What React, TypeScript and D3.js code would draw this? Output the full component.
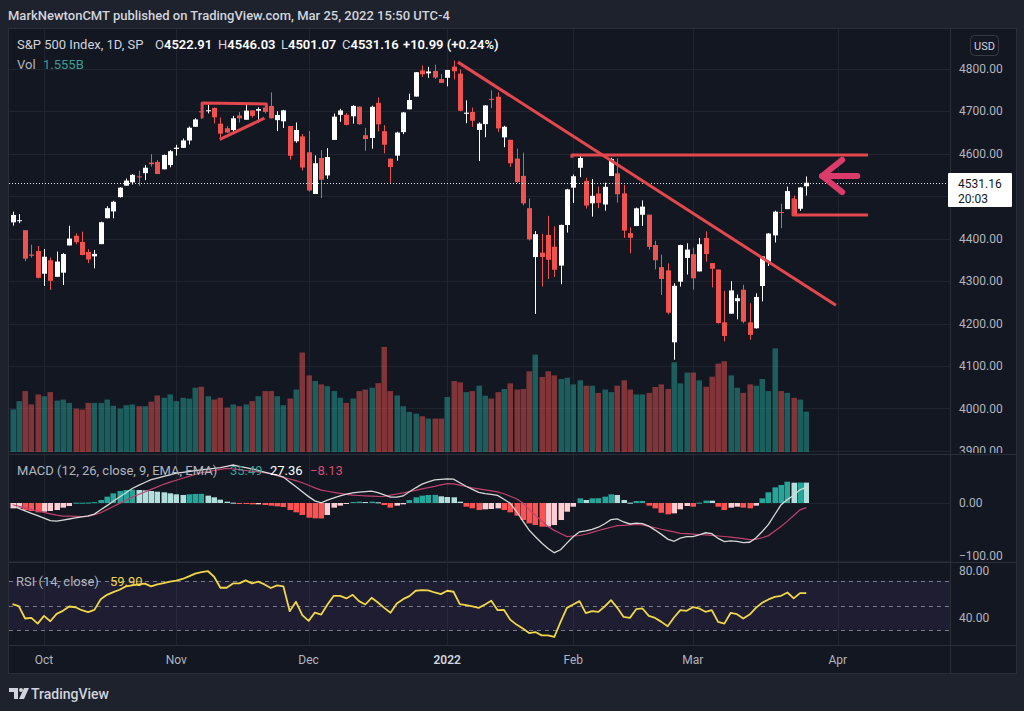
import React from 'react';
import * as d3 from 'd3';

// ---------- DATA (S&P 500 daily, Sep 24 2021 – Mar 25 2022) ----------
const OPEN = [4438.04,4442.12,4419.54,4362.41,4370.67,4317.16,4348.84,4309.87,4319.57,4383.73,
4406.51,4391.74,4368.31,4358.01,4386.75,4447.69,4463.72,4497.34,4524.42,4532.24,
4546.12,4553.69,4578.69,4580.22,4562.84,4572.87,4610.62,4613.34,4630.65,4662.93,
4699.26,4701.48,4707.25,4670.26,4659.39,4655.24,4689.30,4679.42,4701.50,4700.72,
4708.44,4712.00,4678.48,4675.78,4664.63,4628.75,4640.25,4602.82,4504.73,4589.49,
4548.37,4631.97,4690.86,4691.00,4687.64,4710.30,4642.99,4636.46,4719.13,4652.50,
4587.90,4594.96,4650.36,4703.96,4733.99,4795.49,4788.64,4794.23,4775.21,4778.14,
4804.51,4787.99,4693.39,4697.66,4655.34,4669.14,4728.59,4733.56,4637.99,4632.24,
4588.03,4547.35,4471.38,4356.32,4366.64,4408.43,4380.58,4336.19,4431.79,4519.57,
4566.39,4535.41,4482.79,4505.75,4480.02,4547.00,4553.24,4506.27,4412.61,4429.28,
4455.75,4456.06,4384.57,4332.74,4324.93,4155.77,4298.38,4354.17,4363.14,4322.56,
4401.31,4342.12,4327.01,4202.66,4223.10,4252.55,4279.50,4202.75,4188.82,4288.14,
4345.11,4407.34,4462.40,4469.10,4493.10,4469.98,4522.91];
const HIGH = [4463.12,4457.30,4419.54,4385.57,4382.55,4375.19,4355.51,4369.23,4365.57,4429.97,
4412.02,4415.88,4374.89,4372.87,4439.73,4475.82,4488.75,4520.40,4540.87,4551.44,
4559.67,4572.62,4598.53,4584.57,4597.55,4608.08,4620.34,4635.15,4663.46,4683.00,
4718.50,4714.92,4708.53,4684.85,4664.55,4688.47,4697.42,4714.95,4701.50,4708.80,
4717.75,4743.83,4699.39,4702.87,4664.63,4672.95,4646.02,4652.94,4595.46,4608.03,
4612.60,4694.04,4705.06,4695.26,4713.57,4710.30,4660.47,4712.60,4731.99,4666.70,
4587.90,4651.14,4697.67,4740.74,4791.49,4807.02,4804.06,4808.93,4786.83,4796.64,
4818.62,4797.70,4725.01,4707.95,4673.02,4714.13,4748.83,4744.13,4665.13,4632.24,
4611.55,4602.11,4494.52,4417.35,4411.01,4453.23,4428.74,4432.72,4516.89,4550.49,
4595.31,4542.88,4539.66,4521.86,4531.32,4590.03,4588.92,4526.33,4426.22,4472.77,
4489.55,4456.06,4394.60,4362.12,4341.51,4294.73,4385.34,4388.84,4378.45,4401.48,
4416.78,4342.12,4327.01,4276.94,4299.40,4268.28,4291.01,4247.57,4271.05,4357.86,
4412.67,4465.40,4481.75,4522.00,4501.07,4520.58,4546.03];
const LOW = [4430.27,4436.19,4346.33,4355.08,4306.24,4288.52,4278.94,4309.87,4290.49,4383.73,
4386.22,4360.59,4342.09,4329.92,4386.75,4447.69,4447.47,4496.41,4524.40,4526.89,
4524.00,4537.36,4569.17,4551.66,4562.84,4567.59,4595.06,4613.34,4621.19,4662.59,
4681.32,4694.39,4670.87,4630.86,4648.31,4650.77,4672.86,4679.42,4684.41,4672.78,
4694.22,4682.17,4652.66,4659.89,4585.43,4625.26,4560.00,4510.27,4504.73,4495.12,
4540.51,4631.97,4674.52,4665.98,4670.24,4667.60,4606.52,4611.22,4651.89,4600.22,
4531.10,4583.16,4645.53,4703.96,4733.99,4780.04,4778.08,4775.33,4765.75,4758.17,
4774.27,4699.44,4671.26,4662.74,4582.24,4638.27,4706.71,4650.29,4614.75,4568.70,
4530.20,4477.95,4395.34,4222.62,4287.11,4304.80,4309.50,4292.46,4414.02,4483.53,
4544.32,4470.39,4451.50,4471.47,4465.40,4547.00,4484.31,4401.41,4364.84,4429.28,
4429.68,4373.81,4327.22,4267.11,4221.51,4114.65,4286.83,4315.12,4279.54,4322.56,
4345.56,4284.98,4199.85,4157.87,4223.10,4209.80,4200.49,4161.72,4187.90,4251.99,
4335.65,4390.57,4424.30,4469.10,4455.81,4465.17,4501.07];
const CLOSE = [4455.48,4443.11,4352.63,4359.46,4307.54,4357.04,4300.46,4345.72,4363.55,4399.76,
4391.34,4361.19,4350.65,4363.80,4438.26,4471.37,4486.46,4519.63,4536.19,4549.78,
4544.90,4566.48,4574.79,4551.68,4596.42,4605.38,4613.67,4630.65,4660.57,4680.06,
4697.53,4701.70,4685.25,4646.71,4649.27,4682.85,4682.80,4700.90,4688.67,4704.54,
4697.96,4682.94,4690.70,4701.46,4594.62,4655.27,4567.00,4513.04,4577.10,4538.43,
4591.67,4686.75,4701.21,4667.45,4712.02,4668.97,4634.09,4709.85,4668.67,4620.64,
4568.02,4649.23,4696.56,4725.79,4791.19,4786.35,4793.06,4778.73,4766.18,4796.56,
4793.54,4700.58,4696.05,4677.03,4670.29,4713.07,4726.35,4659.03,4662.85,4577.11,
4532.76,4482.73,4397.94,4410.13,4356.45,4349.93,4326.51,4431.85,4515.55,4546.54,
4589.38,4477.44,4500.53,4483.87,4521.54,4587.18,4504.08,4418.64,4401.67,4471.07,
4475.01,4380.26,4348.87,4304.76,4225.50,4288.70,4384.65,4373.94,4306.26,4386.54,
4363.49,4328.87,4201.09,4170.70,4277.88,4259.52,4204.31,4173.11,4262.45,4357.86,
4411.67,4463.12,4461.18,4511.61,4456.24,4520.16,4531.16];
// volume, billions
const VOLUME = [1.66,1.98,2.37,1.85,2.24,2.17,2.33,2.00,2.04,1.91,
1.69,1.65,1.91,1.91,1.91,2.04,1.80,1.69,1.82,1.85,
1.78,1.78,1.96,2.20,2.11,2.24,1.98,2.11,2.08,2.50,
2.54,2.17,2.04,2.11,1.73,1.85,1.78,1.85,1.98,2.17,
2.37,2.37,2.17,1.82,2.08,2.43,3.87,2.98,2.76,2.63,
2.56,2.37,2.11,1.91,2.08,2.37,2.43,2.50,2.68,4.09,
2.37,2.20,1.78,1.56,1.49,1.39,1.30,1.30,1.30,2.14,
2.76,2.71,2.33,2.37,2.58,2.19,2.08,2.33,2.45,2.67,
2.43,2.45,3.14,3.79,2.92,3.14,2.98,2.84,2.89,2.63,
2.79,2.58,2.58,2.30,2.43,2.33,2.58,2.79,2.43,2.24,
2.24,2.30,2.53,2.63,2.45,3.49,2.67,3.09,3.09,2.79,
2.54,2.93,3.44,3.53,2.98,2.50,2.30,2.63,2.58,2.84,
2.37,4.03,2.37,2.30,2.11,2.04,1.57];
const MACD_LINE = [-5.2,-9.4,-13.7,-17.9,-22.1,-26.4,-30.6,-31.5,-29.6,-27.8,
-25.9,-24.2,-22.3,-19.3,-11.8,-4.5,3.0,10.3,17.7,25.2,
30.6,35.7,40.5,43.3,46.3,49.0,51.8,53.4,54.8,56.3,
57.7,59.0,60.2,61.6,63.8,66.1,63.8,61.7,59.5,56.9,
53.9,51.1,48.3,45.2,36.7,28.2,19.5,11.1,3.7,0.3,
4.9,9.0,12.3,15.5,17.7,18.8,19.7,20.7,17.9,14.1,
10.3,10.1,12.3,19.5,26.4,32.7,36.9,40.2,41.2,42.1,
41.6,35.3,29.2,23.8,18.4,16.3,15.1,13.2,6.6,-0.5,
-14.8,-31.0,-47.3,-58.8,-69.7,-79.1,-86.4,-81.4,-69.7,-58.8,
-50.1,-48.3,-45.7,-42.1,-36.0,-28.9,-27.6,-33.0,-36.5,-35.1,
-36.0,-40.3,-47.1,-54.6,-62.8,-66.6,-61.0,-58.6,-58.6,-55.3,
-51.8,-53.4,-61.6,-67.0,-65.9,-66.8,-68.9,-68.3,-60.9,-49.7,
-37.2,-20.0,-3.0,5.9,13.6,23.0,27.36];
const SIGNAL_LINE = [-3.0,-5.7,-8.5,-11.5,-13.9,-16.3,-18.8,-21.2,-22.7,-22.9,
-23.3,-23.6,-23.3,-20.2,-16.9,-11.5,-6.1,-0.7,4.7,10.3,
14.8,19.1,23.6,28.0,32.5,36.3,39.6,43.0,46.3,49.6,
52.7,54.6,56.5,58.4,60.2,59.1,57.9,56.5,55.3,54.1,
52.7,50.4,47.5,44.7,41.7,39.0,35.3,30.8,26.3,22.3,
20.4,18.6,16.7,14.9,13.7,13.0,12.5,12.0,11.5,11.3,
13.6,15.7,17.7,20.0,22.1,24.5,26.8,29.0,31.5,33.7,
33.4,31.1,28.7,26.3,24.5,22.8,21.0,19.3,16.0,11.8,
7.5,0.2,-11.0,-21.6,-31.3,-40.9,-47.6,-53.0,-58.4,-57.4,
-56.5,-54.3,-51.0,-47.8,-44.9,-42.1,-39.5,-38.8,-38.1,-37.4,
-38.1,-40.7,-43.1,-45.7,-48.0,-50.3,-52.7,-53.4,-54.1,-54.8,
-55.5,-56.3,-57.4,-58.3,-59.3,-60.5,-62.1,-63.6,-63.1,-60.5,
-56.7,-48.7,-40.7,-31.5,-21.7,-12.0,-8.13];
const MACD_HIST = [-9.3,-8.1,-12.2,-13.9,-16.2,-15.1,-13.9,-12.2,-8.1,-5.2,
0.5,0.5,0.8,1.5,5.2,11.0,16.8,20.9,22.6,23.2,
22.6,22.0,20.9,19.7,18.6,16.8,15.1,13.9,15.1,15.7,
15.9,12.8,9.9,5.8,2.3,0.6,-1.2,-1.7,-2.3,-2.3,
-3.5,-4.6,-5.8,-7.0,-12.2,-16.2,-20.9,-25.5,-26.7,-26.9,
-20.9,-8.1,-4.6,-1.2,1.7,2.3,1.7,2.3,1.2,-3.5,
-8.1,-4.6,-2.3,5.2,9.9,12.8,13.9,14.1,11.6,10.4,
9.9,2.3,-6.4,-9.3,-12.2,-11.0,-10.4,-9.3,-12.2,-16.2,
-22.0,-29.6,-35.4,-38.3,-41.2,-41.0,-38.3,-29.6,-15.1,-6.4,
8.1,5.2,8.1,8.3,11.0,15.1,13.9,5.2,0.6,3.5,
3.6,-4.6,-9.3,-17.0,-19.7,-18.0,-11.0,-5.2,-6.4,0.6,
4.1,4.0,-6.4,-12.2,-8.1,-6.4,-8.1,-9.3,-4.6,8.1,
18.6,27.2,31.3,37.1,35.3,35.6,35.49];
const RSI = [51.1,49.5,39.5,40.0,35.4,41.6,37.3,43.2,45.7,49.2,
48.6,46.2,44.6,46.5,55.1,58.6,60.8,62.7,65.4,66.2,
67.0,67.6,65.4,67.0,68.1,69.2,70.0,71.4,73.5,75.7,
77.0,77.8,73.2,64.3,64.3,67.8,67.8,70.3,67.8,69.2,
67.0,64.1,66.2,65.4,45.4,53.0,42.2,37.6,44.3,42.7,
50.8,57.8,57.8,55.7,58.6,53.5,50.8,56.2,52.4,48.1,
44.1,51.6,55.1,57.6,61.9,62.4,62.2,60.5,59.2,61.9,
61.1,51.1,50.3,49.2,48.1,50.8,53.8,46.2,46.5,38.6,
34.6,31.4,27.8,28.6,25.9,25.9,24.6,36.8,48.1,50.8,
53.5,43.8,45.4,44.9,49.2,54.3,48.1,40.8,40.0,47.0,
47.6,41.6,40.0,36.8,33.2,40.3,46.2,45.7,48.6,47.6,
44.9,46.2,36.8,35.4,44.1,43.0,39.5,42.7,48.1,52.2,
54.9,57.0,57.8,60.5,55.7,60.0,59.9];

const PRICE_TICKS = [4800, 4700, 4600, 4500, 4400, 4300, 4200, 4100, 4000, 3900];
const TIME_LABELS = ['Oct', 'Nov', 'Dec', '2022', 'Feb', 'Mar', 'Apr'];
const TIME_BARS = [5, 26, 47, 69, 89, 108, 131];

// hand-drawn annotations, in (bar index, price)
const TRI_TOP = [[30.1, 4683], [30.1, 4719], [40.3, 4716.5], [40.3, 4702]];
const TRI_LOW = [[32.9, 4633], [40.0, 4683]];
const DOWNTREND = [[70.7, 4815], [130.7, 4243]];
const RESIST = [[88.8, 4590], [88.8, 4596.5], [135.8, 4596.5]];
const SUPPORT = [[123.9, 4495], [123.9, 4455.3], [135.8, 4455.3]];
const ARROW_HEAD = [[131.7, 4585], [128.5, 4547], [131.7, 4509]];
const ARROW_SHAFT = [[128.5, 4547], [134.1, 4547]];

const FONT = "Roboto, 'Noto Sans', sans-serif";
const BG = '#1e222d';
const PANE = '#131722';
const BORDER = '#2a2e39';
const GRID = '#20242f';
const AXIS_TXT = '#b2b5be';
const UP = '#ffffff';
const DOWN = '#ef5350';

export default function App() {
  const n = CLOSE.length;
  const idx = d3.range(n);
  const PL = 9, PR = 950, AR = 1016;
  const MT = 29, MB = 454, QT = 455, QB = 562, RT = 563, RB = 645, TB = 673;

  const x = d3.scaleLinear().domain([0, 126]).range([12.5, 806.3]);
  const yP = d3.scaleLinear().domain([3900, 4800]).range([451, 68.5]);
  const yV = d3.scaleLinear().domain([0, 4]).range([452, 452 - 4 * 25.7]);
  const yM = d3.scaleLinear().domain([-100, 0]).range([560.5, 503]);
  const yR = d3.scaleLinear().domain([30, 70]).range([630.3, 580.7]);

  const cx = (i: number) => Math.round(x(i));
  const pLine = d3.line<number[]>().x(d => x(d[0])).y(d => yP(d[1]));
  const macdPath = d3.line<number>().x((_, i) => x(i)).y(d => yM(d))(MACD_LINE) || '';
  const sigPath = d3.line<number>().x((_, i) => x(i)).y(d => yM(d))(SIGNAL_LINE) || '';
  const rsiPath = d3.line<number>().x((_, i) => x(i)).y(d => yR(d))(RSI) || '';
  const hist = MACD_HIST;
  const histColor = (i: number) => {
    const h = hist[i];
    const p = i > 0 ? hist[i - 1] : h;
    if (h >= 0) return h >= p ? '#26a69a' : '#b2dfdb';
    return h < p ? '#ff5252' : '#ffcdd2';
  };

  const lastY = yP(CLOSE[n - 1]);

  return (
    <div style={{ position: 'absolute', left: 0, top: 0 }}>
      <svg width={1024} height={711} style={{ display: 'block' }} fontFamily={FONT}>
        <defs>
          <clipPath id="cMain"><rect x={PL} y={MT} width={PR - PL} height={MB - MT} /></clipPath>
          <clipPath id="cMacd"><rect x={PL} y={QT} width={PR - PL} height={QB - QT} /></clipPath>
          <clipPath id="cRsi"><rect x={PL} y={RT} width={PR - PL} height={RB - RT} /></clipPath>
          <clipPath id="aMain"><rect x={PR} y={MT} width={AR - PR} height={MB - MT - 1} /></clipPath>
          <clipPath id="aMacd"><rect x={PR} y={QT} width={AR - PR} height={QB - QT} /></clipPath>
          <clipPath id="aRsi"><rect x={PR} y={RT} width={AR - PR} height={RB - RT} /></clipPath>
        </defs>
        <rect width={1024} height={711} fill={BG} />
        <text x={8} y={15} fill="#d1d4dc" fontSize={13} fontWeight={500} dominantBaseline="central">
          MarkNewtonCMT published on TradingView.com, Mar 25, 2022 15:50 UTC-4
        </text>
        <rect x={8.5} y={28.5} width={AR - 8} height={TB - 28} fill={PANE} stroke={BORDER} />

        {/* grid */}
        {TIME_BARS.map((b, k) => (
          <line key={'vg' + k} x1={cx(b) + 0.5} x2={cx(b) + 0.5} y1={MT} y2={RB} stroke={GRID} />
        ))}
        {PRICE_TICKS.map(p => (
          <line key={'hg' + p} x1={PL} x2={PR} y1={Math.round(yP(p)) + 0.5} y2={Math.round(yP(p)) + 0.5} stroke={GRID} />
        ))}
        <line x1={PL} x2={PR} y1={Math.round(yM(0)) + 0.5} y2={Math.round(yM(0)) + 0.5} stroke={GRID} />
        <line x1={PL} x2={PR} y1={Math.round(yM(-100)) + 0.5} y2={Math.round(yM(-100)) + 0.5} stroke={GRID} />

        {/* volume */}
        <g clipPath="url(#cMain)">
          {idx.map(i => (
            <rect key={'v' + i} x={cx(i) - 2.5} width={5.5} y={yV(VOLUME[i])} height={yV(0) - yV(VOLUME[i])}
              fill={CLOSE[i] >= OPEN[i] ? 'rgba(38,166,154,0.5)' : 'rgba(239,83,80,0.5)'} />
          ))}
        </g>

        {/* candles */}
        <g clipPath="url(#cMain)">
          {idx.map(i => {
            const up = CLOSE[i] >= OPEN[i];
            const c = up ? UP : DOWN;
            const top = yP(Math.max(OPEN[i], CLOSE[i]));
            const bot = yP(Math.min(OPEN[i], CLOSE[i]));
            return (
              <g key={'c' + i}>
                <line x1={cx(i) + 0.5} x2={cx(i) + 0.5} y1={yP(HIGH[i])} y2={yP(LOW[i])} stroke={c} strokeWidth={1} />
                <rect x={cx(i) - 2} width={5} y={top} height={Math.max(1, bot - top)} fill={c} />
              </g>
            );
          })}
          {/* last price dotted line */}
          <line x1={PL} x2={PR} y1={Math.round(lastY) + 0.5} y2={Math.round(lastY) + 0.5} stroke="#ffffff" strokeDasharray="1 2" opacity={0.9} />
          {/* annotations */}
          <g fill="none" stroke="#e4474e" strokeWidth={3} strokeLinejoin="round">
            <path d={pLine(TRI_TOP) || ''} />
            <path d={pLine(TRI_LOW) || ''} />
            <path d={pLine(DOWNTREND) || ''} />
            <path d={pLine(RESIST) || ''} />
            <path d={pLine(SUPPORT) || ''} />
          </g>
          <g fill="none" stroke="#db3b6a" strokeWidth={6} strokeLinecap="round" strokeLinejoin="round">
            <path d={pLine(ARROW_HEAD) || ''} />
            <path d={pLine(ARROW_SHAFT) || ''} />
          </g>
        </g>

        {/* legends */}
        <g fontSize={13} dominantBaseline="central">
          <text x={17} y={44} fill="#d1d4dc">S&amp;P 500 Index, 1D, SP</text>
          <text x={155} y={44} fill="#d1d4dc">O<tspan fill="#ffffff" fontWeight={600}>4522.91</tspan></text>
          <text x={218} y={44} fill="#d1d4dc">H<tspan fill="#ffffff" fontWeight={600}>4546.03</tspan></text>
          <text x={281} y={44} fill="#d1d4dc">L<tspan fill="#ffffff" fontWeight={600}>4501.07</tspan></text>
          <text x={342} y={44} fill="#d1d4dc">C<tspan fill="#ffffff" fontWeight={600}>4531.16</tspan></text>
          <text x={403} y={44} fill="#ffffff" fontWeight={600}>+10.99 (+0.24%)</text>
          <text x={17} y={64} fill="#b2b5be">Vol</text>
          <text x={43} y={64} fill="#3b9e93">1.555B</text>
        </g>

        {/* MACD pane */}
        <line x1={PL} x2={AR} y1={QT - 0.5} y2={QT - 0.5} stroke={BORDER} />
        <g clipPath="url(#cMacd)">
          {idx.map(i => (
            <rect key={'h' + i} x={cx(i) - 2.5} width={5.5}
              y={Math.min(yM(hist[i]), yM(0))} height={Math.max(1, Math.abs(yM(hist[i]) - yM(0)))}
              fill={histColor(i)} />
          ))}
          <path d={sigPath} fill="none" stroke="#c2406d" strokeWidth={1.2} />
          <path d={macdPath} fill="none" stroke="#d8d8d8" strokeWidth={1.3} />
        </g>
        <g fontSize={13} dominantBaseline="central">
          <text x={17} y={470} fill="#b2b5be">MACD (12, 26, close, 9, EMA, EMA)</text>
          <text x={230} y={470} fill="#3c9f93">35.49</text>
          <text x={270} y={470} fill="#ffffff">27.36</text>
          <text x={310} y={470} fill="#d94b6c">−8.13</text>
        </g>

        {/* RSI pane */}
        <line x1={PL} x2={AR} y1={RT - 0.5} y2={RT - 0.5} stroke={BORDER} />
        <g clipPath="url(#cRsi)">
          <rect x={PL} width={PR - PL} y={yR(70)} height={yR(30) - yR(70)} fill="rgba(126,87,194,0.10)" />
          {[70, 50, 30].map(v => (
            <line key={'rl' + v} x1={PL} x2={PR} y1={Math.round(yR(v)) + 0.5} y2={Math.round(yR(v)) + 0.5}
              stroke="#787b86" strokeDasharray="4 4" />
          ))}
          <path d={rsiPath} fill="none" stroke="#f0d64a" strokeWidth={1.8} strokeLinejoin="round" />
        </g>
        <g fontSize={13} dominantBaseline="central">
          <text x={16} y={581} fill="#b2b5be">RSI (14, close)</text>
          <text x={110} y={581} fill="#f0d64a">59.90</text>
        </g>

        {/* right axis */}
        <line x1={PR + 0.5} x2={PR + 0.5} y1={MT} y2={TB} stroke={BORDER} />
        <g fontSize={12} fill={AXIS_TXT} dominantBaseline="central">
          <g clipPath="url(#aMain)">
            {PRICE_TICKS.filter(p => p !== 4500).map(p => (
              <text key={'pl' + p} x={959} y={yP(p)}>{p.toFixed(2)}</text>
            ))}
          </g>
          <g clipPath="url(#aMacd)">
            <text x={959} y={yM(0)}>0.00</text>
            <text x={959} y={yM(-100) - 5}>−100.00</text>
          </g>
          <g clipPath="url(#aRsi)">
            <text x={959} y={yR(80) + 2.5}>80.00</text>
            <text x={959} y={yR(40)}>40.00</text>
          </g>
        </g>
        <rect x={970.5} y={35.5} width={28} height={20} rx={4} fill={PANE} stroke="#363a45" />
        <text x={984.5} y={46} fontSize={11} fill="#d1d4dc" textAnchor="middle" dominantBaseline="central">USD</text>
        <rect x={948} y={173} width={64} height={34} rx={1} fill="#ffffff" />
        <text x={958} y={184} fontSize={12} fill="#131722" dominantBaseline="central">4531.16</text>
        <text x={958} y={199} fontSize={12} fill="#131722" dominantBaseline="central">20:03</text>

        {/* time axis */}
        <line x1={PL} x2={AR} y1={RB + 0.5} y2={RB + 0.5} stroke={BORDER} />
        <g fontSize={12} fill={AXIS_TXT} textAnchor="middle" dominantBaseline="central">
          {TIME_LABELS.map((t, k) => (
            <text key={'t' + k} x={x(TIME_BARS[k])} y={660} fontWeight={t === '2022' ? 600 : 400}
              fill={t === '2022' ? '#d1d4dc' : AXIS_TXT}>{t}</text>
          ))}
        </g>

        {/* footer logo */}
        <g fill="#d1d4dc">
          <path d="M9 688h9v11h-4v-7h-5z" />
          <circle cx={21} cy={690} r={2} />
          <path d="M24 688h5l-5 11h-5z" />
        </g>
        <text x={31} y={693.5} fontSize={14} fontWeight={500} fill="#d1d4dc" dominantBaseline="central">TradingView</text>
      </svg>
    </div>
  );
}
